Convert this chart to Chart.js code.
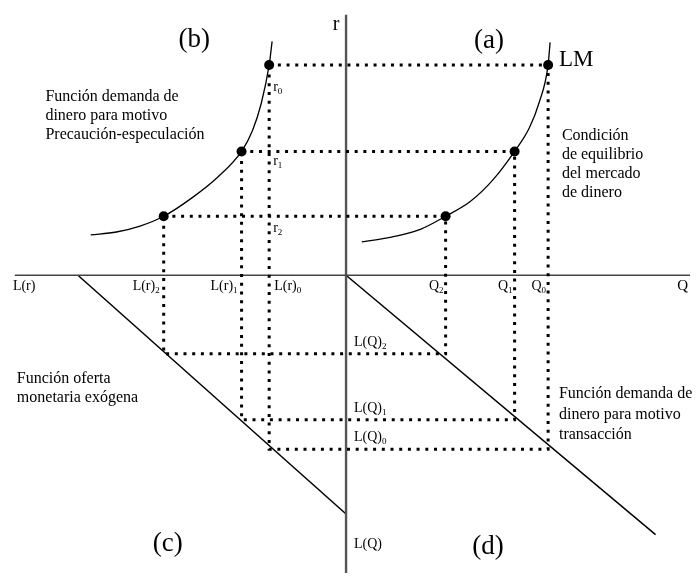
<!DOCTYPE html>
<html>
<head>
<meta charset="utf-8">
<script src="https://cdn.jsdelivr.net/npm/chart.js@4/dist/chart.umd.min.js"></script>
<style>
  html, body { margin: 0; padding: 0; background: #fff; }
  canvas { display: block; }
</style>
</head>
<body>
<canvas id="islm" width="699" height="578"></canvas>
<script>
// equilibrium levels, index 0..2
const rLevels = [214, 126, 60];        // r0, r1, r2
const lrLevels = [-78, -106, -185];    // L(r)0, L(r)1, L(r)2
const qLevels = [205, 171, 101];       // Q0, Q1, Q2
const lqLevels = [-177, -147, -80];    // L(Q)0, L(Q)1, L(Q)2

// curves
const precautionCurve = [[-259, 41], [-233, 44], [-209, 50], [-185, 60], [-156, 79], [-130, 100], [-106, 126], [-95, 147], [-86, 175], [-78, 214], [-75, 238]];
const lmCurve = [[16, 34], [42, 38], [76, 47], [101, 60], [126, 75], [149, 97], [171, 126], [186, 150], [196, 176], [205, 214], [207, 237]];
const supplyLine = [[-272, 0], [0, -243]];
const transactionLine = [[0, 0], [314, -264]];

// axes
const hAxis = [[-336, 0], [349, 0]];
const vAxis = [[0, 265], [0, -303]];

// tick labels
const rLabels = ['0', '1', '2'];
const lrLabels = ['0', '1', '2'];
const qLabels = ['0', '1', '2'];
const lqLabels = ['0', '1', '2'];

const pts = arr => arr.map(p => ({ x: p[0], y: p[1] }));

function line(data, opts) {
    return Object.assign({
        data: pts(data),
        showLine: true,
        borderColor: '#000',
        borderWidth: 1.3,
        pointRadius: 0,
        fill: false
    }, opts);
}

const datasets = [];

// dotted rectangles linking the four quadrants
rLevels.forEach((r, i) => {
    const rect = [[lrLevels[i], r], [qLevels[i], r], [qLevels[i], lqLevels[i]], [lrLevels[i], lqLevels[i]], [lrLevels[i], r]];
    datasets.push(line(rect, { borderWidth: 3, borderDash: [3, 5.7], borderCapStyle: 'butt' }));
});

datasets.push(line(hAxis, { borderColor: '#444', borderWidth: 1.6 }));
datasets.push(line(vAxis, { borderColor: '#555', borderWidth: 2.4 }));
datasets.push(line(precautionCurve, { cubicInterpolationMode: 'monotone' }));
datasets.push(line(lmCurve, { cubicInterpolationMode: 'monotone' }));
datasets.push(line(supplyLine, { borderWidth: 1.5 }));
datasets.push(line(transactionLine, { borderWidth: 1.5 }));

// equilibrium points on both curves
const dots = [];
rLevels.forEach((r, i) => {
    dots.push([lrLevels[i], r]);
    dots.push([qLevels[i], r]);
});
datasets.push({
    data: pts(dots),
    showLine: false,
    pointRadius: 5,
    pointBackgroundColor: '#000',
    pointBorderColor: '#000',
    pointBorderWidth: 0
});

const SERIF = '"Liberation Serif", "DejaVu Serif", serif';

// text with a subscript, aligned on its full width
function subText(ctx, base, sub, x, y, align, size) {
    const subSize = Math.round(size * 0.64);
    ctx.font = size + 'px ' + SERIF;
    const w1 = ctx.measureText(base).width;
    ctx.font = subSize + 'px ' + SERIF;
    const w2 = ctx.measureText(sub).width;
    let left = x;
    if (align === 'right') left = x - w1 - w2;
    if (align === 'center') left = x - (w1 + w2) / 2;
    ctx.textAlign = 'left';
    ctx.font = size + 'px ' + SERIF;
    ctx.fillText(base, left, y);
    ctx.font = subSize + 'px ' + SERIF;
    ctx.fillText(sub, left + w1, y + 3);
}

const notes = [
    { lines: ['Función demanda de', 'dinero para motivo', 'Precaución-especulación'], x: -305, y: 177, step: 19 },
    { lines: ['Condición', 'de equilibrio', 'del mercado', 'de dinero'], x: 219, y: 138, step: 19 },
    { lines: ['Función oferta', 'monetaria exógena'], x: -334, y: -110, step: 19 },
    { lines: ['Función demanda de', 'dinero para motivo', 'transacción'], x: 216, y: -125, step: 20.5 }
];

const titles = [
    { text: '(b)', x: -154, y: 232, size: 27, align: 'center' },
    { text: '(a)', x: 145, y: 231, size: 27, align: 'center' },
    { text: '(c)', x: -181, y: -281, size: 27, align: 'center' },
    { text: '(d)', x: 144, y: -284, size: 27, align: 'center' },
    { text: 'LM', x: 216, y: 213, size: 23, align: 'left' },
    { text: 'r', x: -10, y: 250, size: 20, align: 'center' },
    { text: 'L(Q)', x: 8, y: -278, size: 14, align: 'left' },
    { text: 'L(r)', x: -338, y: -15, size: 14, align: 'left' },
    { text: 'Q', x: 336, y: -15, size: 15, align: 'left' }
];

const labelPlugin = {
    id: 'diagramLabels',
    afterDatasetsDraw(chart) {
        const { ctx, scales: { x, y } } = chart;
        ctx.save();
        ctx.fillStyle = '#000';
        ctx.textBaseline = 'alphabetic';

        titles.forEach(t => {
            ctx.font = t.size + 'px ' + SERIF;
            ctx.textAlign = t.align;
            ctx.fillText(t.text, x.getPixelForValue(t.x), y.getPixelForValue(t.y));
        });

        notes.forEach(n => {
            ctx.font = '16px ' + SERIF;
            ctx.textAlign = 'left';
            n.lines.forEach((s, k) => {
                ctx.fillText(s, x.getPixelForValue(n.x), y.getPixelForValue(n.y) + k * n.step);
            });
        });

        const axisY = y.getPixelForValue(0) + 15;
        const axisX = x.getPixelForValue(0);
        const rNudge = [26, 14, 16];
        rLevels.forEach((r, i) => {
            subText(ctx, 'r', rLabels[i], x.getPixelForValue(lrLevels[0]) + 4, y.getPixelForValue(r) + rNudge[i], 'left', 14);
            const lx = x.getPixelForValue(lrLevels[i]);
            if (i === 0) subText(ctx, 'L(r)', lrLabels[i], lx + 5, axisY, 'left', 14);
            else subText(ctx, 'L(r)', lrLabels[i], lx - 4, axisY, 'right', 14);
            subText(ctx, 'Q', qLabels[i], x.getPixelForValue(qLevels[i]) - 2, axisY, 'right', 14);
            subText(ctx, 'L(Q)', lqLabels[i], axisX + 8, y.getPixelForValue(lqLevels[i]) - 8, 'left', 14);
        });
        ctx.restore();
    }
};

new Chart(document.getElementById('islm'), {
    type: 'scatter',
    data: { datasets },
    options: {
        responsive: false,
        animation: false,
        devicePixelRatio: 1,
        layout: { padding: 0 },
        plugins: { legend: { display: false }, tooltip: { enabled: false } },
        scales: {
            x: { type: 'linear', min: -346, max: 353, display: false },
            y: { type: 'linear', min: -303, max: 275, display: false }
        }
    },
    plugins: [labelPlugin]
});
</script>
</body>
</html>
